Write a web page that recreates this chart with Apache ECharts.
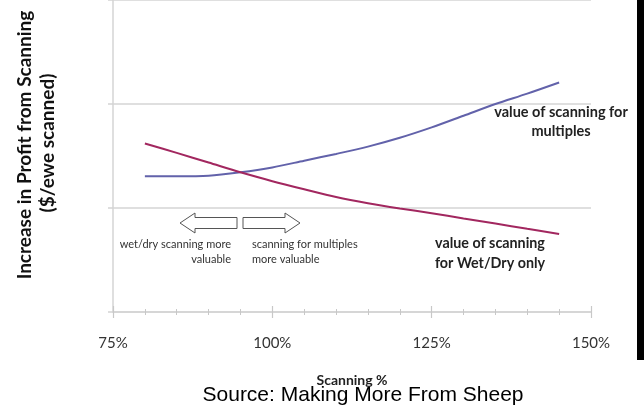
<!DOCTYPE html>
<html>
<head>
<meta charset="utf-8">
<script src="https://cdn.jsdelivr.net/npm/echarts@6/dist/echarts.min.js"></script>
<style>html,body{margin:0;padding:0;background:#fff;}#c{width:644px;height:408px;}</style>
</head>
<body>
<div id="c"></div>
<script>
const scanning = [80, 85, 90, 95, 100, 105, 110, 115, 120, 125, 130, 135, 140, 145];
const multiples = [1.305, 1.305, 1.31, 1.343, 1.39, 1.455, 1.52, 1.59, 1.675, 1.775, 1.887, 2.0, 2.1, 2.207];
const wetDry = [1.62, 1.53, 1.437, 1.343, 1.258, 1.18, 1.105, 1.045, 0.995, 0.95, 0.9, 0.85, 0.8, 0.751];
const xTicks = [75, 100, 125, 150];

const chart = echarts.init(document.getElementById('c'));
const axisGray = '#d4d4d4';
const pct = v => v + '%';
chart.setOption({
  animation: false,
  backgroundColor: '#fff',
  grid: { left: 113, right: 53, top: -6, bottom: 96 },
  xAxis: [{
    type: 'value', min: xTicks[0], max: xTicks[xTicks.length - 1], interval: 25,
    axisLine: { lineStyle: { color: axisGray, width: 1.5 } },
    axisTick: { show: true, length: 6, lineStyle: { color: '#c8c8c8', width: 1.2 } },
    minorTick: { show: true, splitNumber: 5, length: 3, lineStyle: { color: '#c8c8c8' } },
    splitLine: { show: false },
    axisLabel: { formatter: pct, fontFamily: 'Lato', fontSize: 15, color: '#333', margin: 24 },
    name: 'Scanning %', nameLocation: 'middle', nameGap: 61,
    nameTextStyle: { fontFamily: 'Lato', fontWeight: 'bold', fontSize: 14, color: '#222' }
  }, {
    type: 'value', min: xTicks[0], max: xTicks[xTicks.length - 1], interval: 25, position: 'bottom',
    axisLine: { show: false },
    axisTick: { show: true, inside: true, length: 6, lineStyle: { color: '#c8c8c8', width: 1.2 } },
    minorTick: { show: true, splitNumber: 5, length: 3, lineStyle: { color: '#c8c8c8' } },
    splitLine: { show: false }, axisLabel: { show: false }
  }],
  yAxis: {
    type: 'value', min: 0, max: 3, interval: 1,
    axisLine: { show: true, lineStyle: { color: axisGray, width: 1.5 } },
    axisTick: { show: true, length: 5, lineStyle: { color: axisGray, width: 1.5 } },
    axisLabel: { show: false },
    splitLine: { show: true, lineStyle: { color: axisGray, width: 1.5 } }
  },
  series: [{
    type: 'line', name: 'value of scanning for multiples', smooth: 0.3, symbol: 'none',
    data: scanning.map((x, i) => [x, multiples[i]]),
    lineStyle: { color: '#6262aa', width: 2 }
  }, {
    type: 'line', name: 'value of scanning for Wet/Dry only', smooth: 0.3, symbol: 'none',
    data: scanning.map((x, i) => [x, wetDry[i]]),
    lineStyle: { color: '#a2275f', width: 2 }
  }],
  graphic: [
    { type: 'rect', shape: { x: 637, y: 0, width: 7, height: 360 }, style: { fill: '#000' } },
    { type: 'text', x: 25, y: 145, rotation: Math.PI / 2,
      style: { text: 'Increase in Profit from Scanning', fontFamily: 'Lato', fontWeight: 'bold', fontSize: 19, fill: '#111', align: 'center', verticalAlign: 'middle' } },
    { type: 'text', x: 48, y: 143, rotation: Math.PI / 2,
      style: { text: '($/ewe scanned)', fontFamily: 'Lato', fontWeight: 'bold', fontSize: 19, fill: '#111', align: 'center', verticalAlign: 'middle' } },
    { type: 'text', x: 561, y: 122,
      style: { text: 'value of scanning for\nmultiples', fontFamily: 'Lato', fontWeight: 'bold', fontSize: 14.5, lineHeight: 19, fill: '#222', align: 'center', verticalAlign: 'middle' } },
    { type: 'text', x: 490, y: 253,
      style: { text: 'value of scanning\nfor Wet/Dry only', fontFamily: 'Lato', fontWeight: 'bold', fontSize: 14.3, lineHeight: 20, fill: '#222', align: 'center', verticalAlign: 'middle' } },
    { type: 'text', x: 231, y: 252,
      style: { text: 'wet/dry scanning more\nvaluable', fontFamily: 'Lato', fontSize: 11, lineHeight: 15, fill: '#333', align: 'right', verticalAlign: 'middle' } },
    { type: 'text', x: 252, y: 252,
      style: { text: 'scanning for multiples\nmore valuable', fontFamily: 'Lato', fontSize: 11, lineHeight: 15, fill: '#333', align: 'left', verticalAlign: 'middle' } },
    { type: 'polygon', shape: { points: [[180, 223], [195, 213], [195, 217.5], [237, 217.5], [237, 228.5], [195, 228.5], [195, 233]] },
      style: { fill: '#fff', stroke: '#555', lineWidth: 1 } },
    { type: 'polygon', shape: { points: [[300, 223], [285, 213], [285, 217.5], [243, 217.5], [243, 228.5], [285, 228.5], [285, 233]] },
      style: { fill: '#fff', stroke: '#555', lineWidth: 1 } },
    { type: 'text', x: 363, y: 395,
      style: { text: 'Source: Making More From Sheep', fontFamily: 'Liberation Sans', fontSize: 21, fill: '#000', align: 'center', verticalAlign: 'middle' } }
  ]
});
</script>
</body>
</html>
